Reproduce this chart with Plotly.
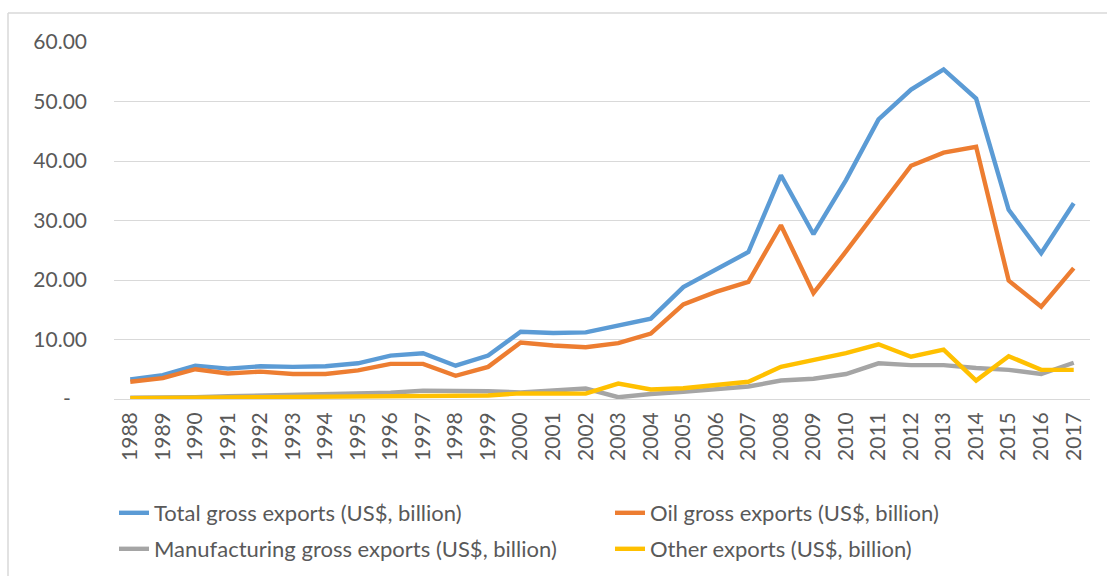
import plotly.graph_objects as go

years = [str(y) for y in range(1988, 2018)]

total = [3.3, 4.0, 5.6, 5.1, 5.5, 5.4, 5.5, 6.0, 7.3, 7.7, 5.6, 7.3, 11.3, 11.1, 11.2, 12.3, 13.5,
         18.8, 21.7, 24.7, 37.6, 27.7, 36.8, 47.0, 52.0, 55.4, 50.5, 31.8, 24.5, 32.9]
oil = [2.9, 3.5, 5.0, 4.3, 4.6, 4.2, 4.2, 4.8, 5.9, 5.9, 3.9, 5.4, 9.5, 9.0, 8.7, 9.4, 11.0,
       15.9, 18.0, 19.7, 29.2, 17.8, 24.8, 32.0, 39.2, 41.4, 42.4, 19.9, 15.5, 22.0]
manufacturing = [0.2, 0.2, 0.3, 0.45, 0.6, 0.75, 0.85, 0.9, 1.05, 1.4, 1.4, 1.3, 1.1, 1.4, 1.75, 0.3, 0.85,
                 1.2, 1.6, 2.1, 3.1, 3.4, 4.2, 6.0, 5.7, 5.7, 5.2, 4.9, 4.2, 6.1]
other = [0.15, 0.15, 0.2, 0.3, 0.3, 0.35, 0.4, 0.45, 0.5, 0.6, 0.6, 0.6, 0.95, 1.0, 0.9, 2.6, 1.6,
         1.8, 2.3, 2.9, 5.4, 6.5, 7.7, 9.2, 7.1, 8.3, 3.1, 7.2, 4.9, 4.9]

series_names = ["Total gross exports (US$, billion)", "Oil gross exports (US$, billion)",
                "Manufacturing gross exports (US$, billion)", "Other exports (US$, billion)"]
series_colors = ["#5B9BD5", "#ED7D31", "#A5A5A5", "#FFC000"]
series_legends = ["legend", "legend2", "legend3", "legend4"]

y_tickvals = [0, 10, 20, 30, 40, 50, 60]
y_ticktext = ["-\u00a0\u00a0\u00a0", "10.00", "20.00", "30.00", "40.00", "50.00", "60.00"]

FONT = "Lato"
TXT = "#595959"

fig = go.Figure()
for name, vals, col, lg in zip(series_names, [total, oil, manufacturing, other], series_colors, series_legends):
    fig.add_trace(go.Scatter(x=years, y=vals, mode="lines", name=name, legend=lg,
                             line=dict(color=col, width=4.4, shape="linear")))

L, R, T, B = 114, 17, 42, 177
W, H = 1107, 576
pw, ph = W - L - R, H - T - B

def px_x(x):
    return (x - L) / pw

def px_y(y):
    return (H - B - y) / ph

leg_font = dict(family=FONT, size=22, color=TXT)

def leg(xpx, ypx):
    return dict(orientation="h", x=px_x(xpx), y=px_y(ypx), xanchor="left", yanchor="middle",
                xref="paper", yref="paper", font=leg_font, bgcolor="rgba(0,0,0,0)", itemwidth=30)

fig.update_layout(
    width=W, height=H,
    margin=dict(l=L, r=R, t=T, b=B, pad=0, autoexpand=False),
    paper_bgcolor="white", plot_bgcolor="white",
    font=dict(family=FONT, color=TXT),
    xaxis=dict(type="category", tickangle=-90, showgrid=False, showline=False, zeroline=False,
               tickfont=dict(family=FONT, size=21, color=TXT), ticks="", ticklabelstandoff=8,
               range=[-0.5, len(years) - 0.5], automargin=False),
    yaxis=dict(range=[0, 60], tickvals=y_tickvals, ticktext=y_ticktext, showgrid=True,
               gridcolor="#D9D9D9", gridwidth=1.3, zeroline=True, zerolinecolor="#D9D9D9",
               zerolinewidth=1.3, showline=False,
               tickfont=dict(family=FONT, size=21, color=TXT), ticks="", ticklabelstandoff=26,
               automargin=False),
    legend=leg(114, 513),
    legend2=leg(610, 513),
    legend3=leg(114, 549),
    legend4=leg(610, 549),
    showlegend=True,
)

# chart-area border (top and left edges visible in the reference)
fig.add_shape(type="line", xref="paper", yref="paper", x0=px_x(8), x1=px_x(1107), y0=px_y(13), y1=px_y(13),
              line=dict(color="#D9D9D9", width=1.5), layer="below")
fig.add_shape(type="line", xref="paper", yref="paper", x0=px_x(8), x1=px_x(8), y0=px_y(13), y1=px_y(576),
              line=dict(color="#D9D9D9", width=1.5), layer="below")

fig.write_html("out.html")
